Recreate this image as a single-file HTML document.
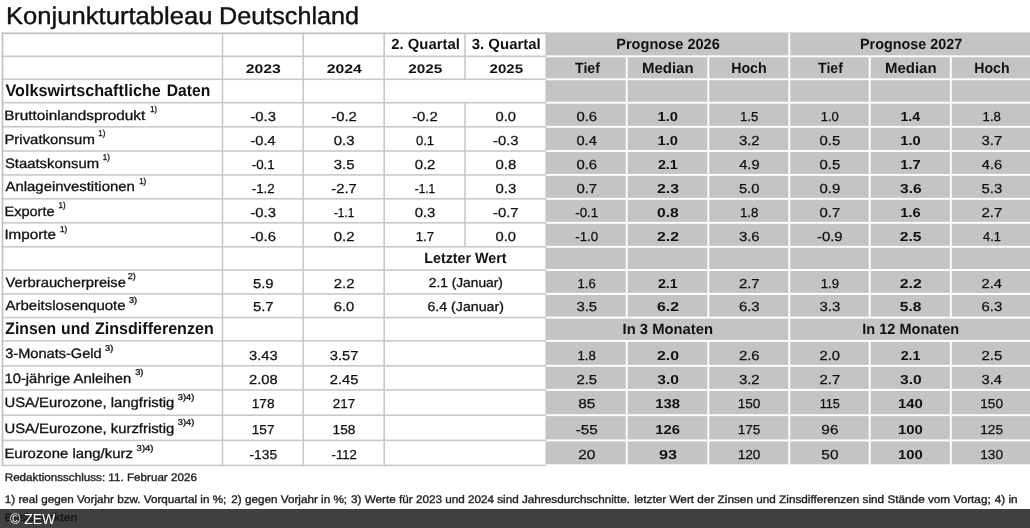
<!DOCTYPE html>
<html lang="de"><head><meta charset="utf-8"><title>Konjunkturtableau Deutschland</title>
<style>
html,body{margin:0;padding:0;background:#fff}
body{width:1030px;height:528px;position:relative;overflow:hidden;font-family:"Liberation Sans", sans-serif;color:#111}
.g{position:absolute;left:0;top:0}
.g text{white-space:pre}
.bar{position:absolute;left:0;top:508.8px;width:1030px;height:19.2px;background:rgba(0,0,0,0.75)}
.cr{position:absolute;left:10px;top:511.7px;font-size:14px;line-height:1;color:#fff;white-space:nowrap}
</style></head><body>
<svg class="g" width="1030" height="528" viewBox="0 0 1030 528" font-family='"Liberation Sans", sans-serif' fill="#111" text-rendering="geometricPrecision">
<g>
<rect x="545.40" y="32.40" width="484.60" height="431.90" fill="#c4c4c4"/>
<rect x="1.70" y="32.50" width="544.30" height="1.60" fill="#bdbdbd"/>
<rect x="1.70" y="55.50" width="544.30" height="1.60" fill="#c9c9c9"/>
<rect x="1.70" y="78.50" width="544.30" height="1.60" fill="#c9c9c9"/>
<rect x="1.70" y="101.90" width="544.30" height="1.60" fill="#c9c9c9"/>
<rect x="1.70" y="126.00" width="544.30" height="1.60" fill="#c9c9c9"/>
<rect x="1.70" y="150.20" width="544.30" height="1.60" fill="#c9c9c9"/>
<rect x="1.70" y="174.10" width="544.30" height="1.60" fill="#c9c9c9"/>
<rect x="1.70" y="198.00" width="544.30" height="1.60" fill="#c9c9c9"/>
<rect x="1.70" y="222.00" width="544.30" height="1.60" fill="#c9c9c9"/>
<rect x="1.70" y="246.00" width="544.30" height="1.60" fill="#c9c9c9"/>
<rect x="1.70" y="269.20" width="544.30" height="1.60" fill="#c9c9c9"/>
<rect x="1.70" y="293.10" width="544.30" height="1.60" fill="#c9c9c9"/>
<rect x="1.70" y="316.80" width="544.30" height="1.60" fill="#c9c9c9"/>
<rect x="1.70" y="340.10" width="544.30" height="1.60" fill="#c9c9c9"/>
<rect x="1.70" y="365.00" width="544.30" height="1.60" fill="#c9c9c9"/>
<rect x="1.70" y="389.10" width="544.30" height="1.60" fill="#c9c9c9"/>
<rect x="1.70" y="414.40" width="544.30" height="1.60" fill="#c9c9c9"/>
<rect x="1.70" y="439.60" width="544.30" height="1.60" fill="#c9c9c9"/>
<rect x="1.70" y="464.60" width="544.30" height="1.60" fill="#c9c9c9"/>
<rect x="1.70" y="32.50" width="1.60" height="433.70" fill="#bdbdbd"/>
<rect x="221.70" y="32.50" width="1.60" height="433.70" fill="#c9c9c9"/>
<rect x="302.40" y="32.50" width="1.60" height="433.70" fill="#c9c9c9"/>
<rect x="383.40" y="32.50" width="1.60" height="433.70" fill="#c9c9c9"/>
<rect x="464.20" y="33.30" width="1.60" height="23.00" fill="#c9c9c9"/>
<rect x="464.20" y="56.30" width="1.60" height="23.00" fill="#c9c9c9"/>
<rect x="464.20" y="102.70" width="1.60" height="24.10" fill="#c9c9c9"/>
<rect x="464.20" y="126.80" width="1.60" height="24.20" fill="#c9c9c9"/>
<rect x="464.20" y="151.00" width="1.60" height="23.90" fill="#c9c9c9"/>
<rect x="464.20" y="174.90" width="1.60" height="23.90" fill="#c9c9c9"/>
<rect x="464.20" y="198.80" width="1.60" height="24.00" fill="#c9c9c9"/>
<rect x="464.20" y="222.80" width="1.60" height="24.00" fill="#c9c9c9"/>
<rect x="546.00" y="55.35" width="484.00" height="1.90" fill="#fff"/>
<rect x="546.00" y="78.35" width="484.00" height="1.90" fill="#fff"/>
<rect x="546.00" y="101.75" width="484.00" height="1.90" fill="#fff"/>
<rect x="546.00" y="125.85" width="484.00" height="1.90" fill="#fff"/>
<rect x="546.00" y="150.05" width="484.00" height="1.90" fill="#fff"/>
<rect x="546.00" y="173.95" width="484.00" height="1.90" fill="#fff"/>
<rect x="546.00" y="197.85" width="484.00" height="1.90" fill="#fff"/>
<rect x="546.00" y="221.85" width="484.00" height="1.90" fill="#fff"/>
<rect x="546.00" y="245.85" width="484.00" height="1.90" fill="#fff"/>
<rect x="546.00" y="269.05" width="484.00" height="1.90" fill="#fff"/>
<rect x="546.00" y="292.95" width="484.00" height="1.90" fill="#fff"/>
<rect x="546.00" y="316.65" width="484.00" height="1.90" fill="#fff"/>
<rect x="546.00" y="339.95" width="484.00" height="1.90" fill="#fff"/>
<rect x="546.00" y="364.85" width="484.00" height="1.90" fill="#fff"/>
<rect x="546.00" y="388.95" width="484.00" height="1.90" fill="#fff"/>
<rect x="546.00" y="414.25" width="484.00" height="1.90" fill="#fff"/>
<rect x="546.00" y="439.45" width="484.00" height="1.90" fill="#fff"/>
<rect x="625.75" y="56.30" width="1.90" height="23.00" fill="#fff"/>
<rect x="625.75" y="79.30" width="1.90" height="23.40" fill="#fff"/>
<rect x="625.75" y="102.70" width="1.90" height="24.10" fill="#fff"/>
<rect x="625.75" y="126.80" width="1.90" height="24.20" fill="#fff"/>
<rect x="625.75" y="151.00" width="1.90" height="23.90" fill="#fff"/>
<rect x="625.75" y="174.90" width="1.90" height="23.90" fill="#fff"/>
<rect x="625.75" y="198.80" width="1.90" height="24.00" fill="#fff"/>
<rect x="625.75" y="222.80" width="1.90" height="24.00" fill="#fff"/>
<rect x="625.75" y="246.80" width="1.90" height="23.20" fill="#fff"/>
<rect x="625.75" y="270.00" width="1.90" height="23.90" fill="#fff"/>
<rect x="625.75" y="293.90" width="1.90" height="23.70" fill="#fff"/>
<rect x="625.75" y="340.90" width="1.90" height="24.90" fill="#fff"/>
<rect x="625.75" y="365.80" width="1.90" height="24.10" fill="#fff"/>
<rect x="625.75" y="389.90" width="1.90" height="25.30" fill="#fff"/>
<rect x="625.75" y="415.20" width="1.90" height="25.20" fill="#fff"/>
<rect x="625.75" y="440.40" width="1.90" height="25.00" fill="#fff"/>
<rect x="707.35" y="56.30" width="1.90" height="23.00" fill="#fff"/>
<rect x="707.35" y="79.30" width="1.90" height="23.40" fill="#fff"/>
<rect x="707.35" y="102.70" width="1.90" height="24.10" fill="#fff"/>
<rect x="707.35" y="126.80" width="1.90" height="24.20" fill="#fff"/>
<rect x="707.35" y="151.00" width="1.90" height="23.90" fill="#fff"/>
<rect x="707.35" y="174.90" width="1.90" height="23.90" fill="#fff"/>
<rect x="707.35" y="198.80" width="1.90" height="24.00" fill="#fff"/>
<rect x="707.35" y="222.80" width="1.90" height="24.00" fill="#fff"/>
<rect x="707.35" y="246.80" width="1.90" height="23.20" fill="#fff"/>
<rect x="707.35" y="270.00" width="1.90" height="23.90" fill="#fff"/>
<rect x="707.35" y="293.90" width="1.90" height="23.70" fill="#fff"/>
<rect x="707.35" y="340.90" width="1.90" height="24.90" fill="#fff"/>
<rect x="707.35" y="365.80" width="1.90" height="24.10" fill="#fff"/>
<rect x="707.35" y="389.90" width="1.90" height="25.30" fill="#fff"/>
<rect x="707.35" y="415.20" width="1.90" height="25.20" fill="#fff"/>
<rect x="707.35" y="440.40" width="1.90" height="25.00" fill="#fff"/>
<rect x="788.35" y="33.30" width="1.90" height="23.00" fill="#fff"/>
<rect x="788.35" y="56.30" width="1.90" height="23.00" fill="#fff"/>
<rect x="788.35" y="79.30" width="1.90" height="23.40" fill="#fff"/>
<rect x="788.35" y="102.70" width="1.90" height="24.10" fill="#fff"/>
<rect x="788.35" y="126.80" width="1.90" height="24.20" fill="#fff"/>
<rect x="788.35" y="151.00" width="1.90" height="23.90" fill="#fff"/>
<rect x="788.35" y="174.90" width="1.90" height="23.90" fill="#fff"/>
<rect x="788.35" y="198.80" width="1.90" height="24.00" fill="#fff"/>
<rect x="788.35" y="222.80" width="1.90" height="24.00" fill="#fff"/>
<rect x="788.35" y="246.80" width="1.90" height="23.20" fill="#fff"/>
<rect x="788.35" y="270.00" width="1.90" height="23.90" fill="#fff"/>
<rect x="788.35" y="293.90" width="1.90" height="23.70" fill="#fff"/>
<rect x="788.35" y="317.60" width="1.90" height="23.30" fill="#fff"/>
<rect x="788.35" y="340.90" width="1.90" height="24.90" fill="#fff"/>
<rect x="788.35" y="365.80" width="1.90" height="24.10" fill="#fff"/>
<rect x="788.35" y="389.90" width="1.90" height="25.30" fill="#fff"/>
<rect x="788.35" y="415.20" width="1.90" height="25.20" fill="#fff"/>
<rect x="788.35" y="440.40" width="1.90" height="25.00" fill="#fff"/>
<rect x="868.75" y="56.30" width="1.90" height="23.00" fill="#fff"/>
<rect x="868.75" y="79.30" width="1.90" height="23.40" fill="#fff"/>
<rect x="868.75" y="102.70" width="1.90" height="24.10" fill="#fff"/>
<rect x="868.75" y="126.80" width="1.90" height="24.20" fill="#fff"/>
<rect x="868.75" y="151.00" width="1.90" height="23.90" fill="#fff"/>
<rect x="868.75" y="174.90" width="1.90" height="23.90" fill="#fff"/>
<rect x="868.75" y="198.80" width="1.90" height="24.00" fill="#fff"/>
<rect x="868.75" y="222.80" width="1.90" height="24.00" fill="#fff"/>
<rect x="868.75" y="246.80" width="1.90" height="23.20" fill="#fff"/>
<rect x="868.75" y="270.00" width="1.90" height="23.90" fill="#fff"/>
<rect x="868.75" y="293.90" width="1.90" height="23.70" fill="#fff"/>
<rect x="868.75" y="340.90" width="1.90" height="24.90" fill="#fff"/>
<rect x="868.75" y="365.80" width="1.90" height="24.10" fill="#fff"/>
<rect x="868.75" y="389.90" width="1.90" height="25.30" fill="#fff"/>
<rect x="868.75" y="415.20" width="1.90" height="25.20" fill="#fff"/>
<rect x="868.75" y="440.40" width="1.90" height="25.00" fill="#fff"/>
<rect x="949.85" y="56.30" width="1.90" height="23.00" fill="#fff"/>
<rect x="949.85" y="79.30" width="1.90" height="23.40" fill="#fff"/>
<rect x="949.85" y="102.70" width="1.90" height="24.10" fill="#fff"/>
<rect x="949.85" y="126.80" width="1.90" height="24.20" fill="#fff"/>
<rect x="949.85" y="151.00" width="1.90" height="23.90" fill="#fff"/>
<rect x="949.85" y="174.90" width="1.90" height="23.90" fill="#fff"/>
<rect x="949.85" y="198.80" width="1.90" height="24.00" fill="#fff"/>
<rect x="949.85" y="222.80" width="1.90" height="24.00" fill="#fff"/>
<rect x="949.85" y="246.80" width="1.90" height="23.20" fill="#fff"/>
<rect x="949.85" y="270.00" width="1.90" height="23.90" fill="#fff"/>
<rect x="949.85" y="293.90" width="1.90" height="23.70" fill="#fff"/>
<rect x="949.85" y="340.90" width="1.90" height="24.90" fill="#fff"/>
<rect x="949.85" y="365.80" width="1.90" height="24.10" fill="#fff"/>
<rect x="949.85" y="389.90" width="1.90" height="25.30" fill="#fff"/>
<rect x="949.85" y="415.20" width="1.90" height="25.20" fill="#fff"/>
<rect x="949.85" y="440.40" width="1.90" height="25.00" fill="#fff"/>
</g>
<g>
<text transform="translate(6.05 23.70) scale(1.0581 1)" font-size="24.2" stroke="#111" stroke-width="0.4">Konjunkturtableau</text>
<text transform="translate(219.08 23.70) scale(1.0408 1)" font-size="24.2" stroke="#111" stroke-width="0.4">Deutschland</text>
<text transform="translate(391.20 49.40) scale(1.0052 1)" font-size="14.8" font-weight="700">2. Quartal</text>
<text transform="translate(471.75 49.40) scale(1.0104 1)" font-size="14.8" font-weight="700">3. Quartal</text>
<text transform="translate(616.22 49.40) scale(0.9841 1)" font-size="14.8" font-weight="700">Prognose 2026</text>
<text transform="translate(860.03 49.40) scale(0.9706 1)" font-size="14.8" font-weight="700">Prognose 2027</text>
<text transform="translate(245.77 73.10) scale(1.2636 1)" font-size="12.5" font-weight="700">2023</text>
<text transform="translate(326.67 73.10) scale(1.2624 1)" font-size="12.5" font-weight="700">2024</text>
<text transform="translate(408.19 73.10) scale(1.2259 1)" font-size="12.5" font-weight="700">2025</text>
<text transform="translate(489.50 73.10) scale(1.2074 1)" font-size="12.5" font-weight="700">2025</text>
<text transform="translate(575.06 72.70) scale(0.9553 1)" font-size="14.8" font-weight="700">Tief</text>
<text transform="translate(641.99 72.70) scale(1.0122 1)" font-size="14.8" font-weight="700">Median</text>
<text transform="translate(731.14 72.70) scale(0.9600 1)" font-size="14.8" font-weight="700">Hoch</text>
<text transform="translate(818.06 72.70) scale(0.9553 1)" font-size="14.8" font-weight="700">Tief</text>
<text transform="translate(884.99 72.70) scale(1.0122 1)" font-size="14.8" font-weight="700">Median</text>
<text transform="translate(974.35 72.70) scale(0.9514 1)" font-size="14.8" font-weight="700">Hoch</text>
<text transform="translate(5.46 96.20) scale(0.9754 1)" font-size="16.6" font-weight="700">Volkswirtschaftliche</text>
<text transform="translate(166.75 96.20) scale(0.9455 1)" font-size="16.6" font-weight="700">Daten</text>
<text transform="translate(5.33 333.70) scale(0.9481 1)" font-size="16.6" font-weight="700">Zinsen</text>
<text transform="translate(61.05 333.70) scale(0.9451 1)" font-size="16.6" font-weight="700">und</text>
<text transform="translate(95.02 333.70) scale(0.9678 1)" font-size="16.6" font-weight="700">Zinsdifferenzen</text>
<text transform="translate(4.37 119.60) scale(1.1297 1)" font-size="13.6" stroke="#111" stroke-width="0.3">Bruttoinlandsprodukt</text>
<text transform="translate(150.26 112.30) scale(0.8741 1)" font-size="8.5" stroke="#111" stroke-width="0.3">1)</text>
<text transform="translate(4.40 143.65) scale(1.0981 1)" font-size="13.6" stroke="#111" stroke-width="0.3">Privatkonsum</text>
<text transform="translate(98.23 136.35) scale(0.9333 1)" font-size="8.5" stroke="#111" stroke-width="0.3">1)</text>
<text transform="translate(4.95 167.55) scale(1.0918 1)" font-size="13.6" stroke="#111" stroke-width="0.3">Staatskonsum</text>
<text transform="translate(102.83 160.25) scale(0.9333 1)" font-size="8.5" stroke="#111" stroke-width="0.3">1)</text>
<text transform="translate(5.50 191.30) scale(1.0968 1)" font-size="13.6" stroke="#111" stroke-width="0.3">Anlageinvestitionen</text>
<text transform="translate(139.13 184.00) scale(0.9333 1)" font-size="8.5" stroke="#111" stroke-width="0.3">1)</text>
<text transform="translate(4.43 215.65) scale(1.0703 1)" font-size="13.6" stroke="#111" stroke-width="0.3">Exporte</text>
<text transform="translate(58.53 208.35) scale(0.9333 1)" font-size="8.5" stroke="#111" stroke-width="0.3">1)</text>
<text transform="translate(4.38 239.20) scale(1.1191 1)" font-size="13.6" stroke="#111" stroke-width="0.3">Importe</text>
<text transform="translate(60.03 231.90) scale(0.9333 1)" font-size="8.5" stroke="#111" stroke-width="0.3">1)</text>
<text transform="translate(5.50 286.55) scale(1.0842 1)" font-size="13.6" stroke="#111" stroke-width="0.3">Verbraucherpreise</text>
<text transform="translate(127.84 279.25) scale(1.0571 1)" font-size="8.5" stroke="#111" stroke-width="0.3">2)</text>
<text transform="translate(5.50 310.45) scale(1.1039 1)" font-size="13.6" stroke="#111" stroke-width="0.3">Arbeitslosenquote</text>
<text transform="translate(128.93 303.15) scale(1.0857 1)" font-size="8.5" stroke="#111" stroke-width="0.3">3)</text>
<text transform="translate(5.23 358.40) scale(1.0719 1)" font-size="13.6" stroke="#111" stroke-width="0.3">3-Monats-Geld</text>
<text transform="translate(105.03 351.10) scale(1.0857 1)" font-size="8.5" stroke="#111" stroke-width="0.3">3)</text>
<text transform="translate(4.41 382.50) scale(1.0893 1)" font-size="13.6" stroke="#111" stroke-width="0.3">10-jährige Anleihen</text>
<text transform="translate(135.23 375.20) scale(1.0857 1)" font-size="8.5" stroke="#111" stroke-width="0.3">3)</text>
<text transform="translate(4.41 407.30) scale(1.0916 1)" font-size="13.6" stroke="#111" stroke-width="0.3">USA/Eurozone, langfristig</text>
<text transform="translate(177.83 400.00) scale(1.0966 1)" font-size="8.5" stroke="#111" stroke-width="0.3">3)4)</text>
<text transform="translate(4.41 432.60) scale(1.0916 1)" font-size="13.6" stroke="#111" stroke-width="0.3">USA/Eurozone, kurzfristig</text>
<text transform="translate(177.83 425.30) scale(1.0966 1)" font-size="8.5" stroke="#111" stroke-width="0.3">3)4)</text>
<text transform="translate(4.40 458.10) scale(1.0970 1)" font-size="13.6" stroke="#111" stroke-width="0.3">Eurozone lang/kurz</text>
<text transform="translate(136.62 450.80) scale(1.1172 1)" font-size="8.5" stroke="#111" stroke-width="0.3">3)4)</text>
<text transform="translate(250.43 121.25) scale(1.1395 1)" font-size="13" stroke="#111" stroke-width="0.25">-0.3</text>
<text transform="translate(331.28 121.25) scale(1.1395 1)" font-size="13" stroke="#111" stroke-width="0.25">-0.2</text>
<text transform="translate(412.18 121.25) scale(1.1395 1)" font-size="13" stroke="#111" stroke-width="0.25">-0.2</text>
<text transform="translate(495.58 121.25) scale(1.1304 1)" font-size="13" stroke="#111" stroke-width="0.25">0.0</text>
<text transform="translate(576.43 121.25) scale(1.1471 1)" font-size="13" stroke="#111" stroke-width="0.25">0.6</text>
<text transform="translate(657.60 121.25) scale(1.1284 1)" font-size="13" font-weight="700">1.0</text>
<text transform="translate(739.94 121.25) scale(1.0149 1)" font-size="13" stroke="#111" stroke-width="0.25">1.5</text>
<text transform="translate(820.65 121.25) scale(1.0000 1)" font-size="13" stroke="#111" stroke-width="0.25">1.0</text>
<text transform="translate(900.38 121.25) scale(1.0957 1)" font-size="13" font-weight="700">1.4</text>
<text transform="translate(982.54 121.25) scale(1.0149 1)" font-size="13" stroke="#111" stroke-width="0.25">1.8</text>
<text transform="translate(250.44 145.30) scale(1.1264 1)" font-size="13" stroke="#111" stroke-width="0.25">-0.4</text>
<text transform="translate(333.78 145.30) scale(1.1471 1)" font-size="13" stroke="#111" stroke-width="0.25">0.3</text>
<text transform="translate(416.00 145.30) scale(1.0000 1)" font-size="13" stroke="#111" stroke-width="0.25">0.1</text>
<text transform="translate(493.08 145.30) scale(1.1395 1)" font-size="13" stroke="#111" stroke-width="0.25">-0.3</text>
<text transform="translate(576.43 145.30) scale(1.1304 1)" font-size="13" stroke="#111" stroke-width="0.25">0.4</text>
<text transform="translate(657.60 145.30) scale(1.1284 1)" font-size="13" font-weight="700">1.0</text>
<text transform="translate(738.88 145.30) scale(1.1471 1)" font-size="13" stroke="#111" stroke-width="0.25">3.2</text>
<text transform="translate(819.58 145.30) scale(1.1471 1)" font-size="13" stroke="#111" stroke-width="0.25">0.5</text>
<text transform="translate(900.35 145.30) scale(1.1284 1)" font-size="13" font-weight="700">1.0</text>
<text transform="translate(981.48 145.30) scale(1.1471 1)" font-size="13" stroke="#111" stroke-width="0.25">3.7</text>
<text transform="translate(251.74 169.40) scale(1.0233 1)" font-size="13" stroke="#111" stroke-width="0.25">-0.1</text>
<text transform="translate(333.78 169.40) scale(1.1471 1)" font-size="13" stroke="#111" stroke-width="0.25">3.5</text>
<text transform="translate(414.68 169.40) scale(1.1471 1)" font-size="13" stroke="#111" stroke-width="0.25">0.2</text>
<text transform="translate(495.58 169.40) scale(1.1471 1)" font-size="13" stroke="#111" stroke-width="0.25">0.8</text>
<text transform="translate(576.43 169.40) scale(1.1471 1)" font-size="13" stroke="#111" stroke-width="0.25">0.6</text>
<text transform="translate(657.90 169.40) scale(1.0957 1)" font-size="13" font-weight="700">2.1</text>
<text transform="translate(739.17 169.40) scale(1.1304 1)" font-size="13" stroke="#111" stroke-width="0.25">4.9</text>
<text transform="translate(819.58 169.40) scale(1.1471 1)" font-size="13" stroke="#111" stroke-width="0.25">0.5</text>
<text transform="translate(900.35 169.40) scale(1.1284 1)" font-size="13" font-weight="700">1.7</text>
<text transform="translate(981.77 169.40) scale(1.1304 1)" font-size="13" stroke="#111" stroke-width="0.25">4.6</text>
<text transform="translate(251.74 192.90) scale(1.0233 1)" font-size="13" stroke="#111" stroke-width="0.25">-1.2</text>
<text transform="translate(331.28 192.90) scale(1.1395 1)" font-size="13" stroke="#111" stroke-width="0.25">-2.7</text>
<text transform="translate(414.80 192.90) scale(0.9070 1)" font-size="13" stroke="#111" stroke-width="0.25">-1.1</text>
<text transform="translate(495.58 192.90) scale(1.1471 1)" font-size="13" stroke="#111" stroke-width="0.25">0.3</text>
<text transform="translate(576.43 192.90) scale(1.1471 1)" font-size="13" stroke="#111" stroke-width="0.25">0.7</text>
<text transform="translate(656.94 192.90) scale(1.2176 1)" font-size="13" font-weight="700">2.3</text>
<text transform="translate(738.88 192.90) scale(1.1304 1)" font-size="13" stroke="#111" stroke-width="0.25">5.0</text>
<text transform="translate(819.58 192.90) scale(1.1471 1)" font-size="13" stroke="#111" stroke-width="0.25">0.9</text>
<text transform="translate(900.00 192.90) scale(1.2000 1)" font-size="13" font-weight="700">3.6</text>
<text transform="translate(981.48 192.90) scale(1.1471 1)" font-size="13" stroke="#111" stroke-width="0.25">5.3</text>
<text transform="translate(250.43 217.00) scale(1.1395 1)" font-size="13" stroke="#111" stroke-width="0.25">-0.3</text>
<text transform="translate(333.90 217.00) scale(0.9070 1)" font-size="13" stroke="#111" stroke-width="0.25">-1.1</text>
<text transform="translate(414.68 217.00) scale(1.1471 1)" font-size="13" stroke="#111" stroke-width="0.25">0.3</text>
<text transform="translate(493.08 217.00) scale(1.1395 1)" font-size="13" stroke="#111" stroke-width="0.25">-0.7</text>
<text transform="translate(575.24 217.00) scale(1.0233 1)" font-size="13" stroke="#111" stroke-width="0.25">-0.1</text>
<text transform="translate(656.95 217.00) scale(1.2000 1)" font-size="13" font-weight="700">0.8</text>
<text transform="translate(739.94 217.00) scale(1.0149 1)" font-size="13" stroke="#111" stroke-width="0.25">1.8</text>
<text transform="translate(819.58 217.00) scale(1.1471 1)" font-size="13" stroke="#111" stroke-width="0.25">0.7</text>
<text transform="translate(900.35 217.00) scale(1.1284 1)" font-size="13" font-weight="700">1.6</text>
<text transform="translate(981.48 217.00) scale(1.1471 1)" font-size="13" stroke="#111" stroke-width="0.25">2.7</text>
<text transform="translate(250.43 240.60) scale(1.1395 1)" font-size="13" stroke="#111" stroke-width="0.25">-0.6</text>
<text transform="translate(333.78 240.60) scale(1.1471 1)" font-size="13" stroke="#111" stroke-width="0.25">0.2</text>
<text transform="translate(415.74 240.60) scale(1.0149 1)" font-size="13" stroke="#111" stroke-width="0.25">1.7</text>
<text transform="translate(495.58 240.60) scale(1.1304 1)" font-size="13" stroke="#111" stroke-width="0.25">0.0</text>
<text transform="translate(575.24 240.60) scale(1.0233 1)" font-size="13" stroke="#111" stroke-width="0.25">-1.0</text>
<text transform="translate(656.94 240.60) scale(1.2176 1)" font-size="13" font-weight="700">2.2</text>
<text transform="translate(738.88 240.60) scale(1.1471 1)" font-size="13" stroke="#111" stroke-width="0.25">3.6</text>
<text transform="translate(817.08 240.60) scale(1.1395 1)" font-size="13" stroke="#111" stroke-width="0.25">-0.9</text>
<text transform="translate(899.70 240.60) scale(1.2000 1)" font-size="13" font-weight="700">2.5</text>
<text transform="translate(983.05 240.60) scale(0.9855 1)" font-size="13" stroke="#111" stroke-width="0.25">4.1</text>
<text transform="translate(252.93 287.70) scale(1.1471 1)" font-size="13" stroke="#111" stroke-width="0.25">5.9</text>
<text transform="translate(333.78 287.70) scale(1.1471 1)" font-size="13" stroke="#111" stroke-width="0.25">2.2</text>
<text transform="translate(428.77 287.40) scale(1.0565 1)" font-size="13" stroke="#111" stroke-width="0.3">2.1 (Januar)</text>
<text transform="translate(577.49 287.70) scale(1.0149 1)" font-size="13" stroke="#111" stroke-width="0.25">1.6</text>
<text transform="translate(657.90 287.70) scale(1.0957 1)" font-size="13" font-weight="700">2.1</text>
<text transform="translate(738.88 287.70) scale(1.1471 1)" font-size="13" stroke="#111" stroke-width="0.25">2.7</text>
<text transform="translate(820.64 287.70) scale(1.0149 1)" font-size="13" stroke="#111" stroke-width="0.25">1.9</text>
<text transform="translate(899.69 287.70) scale(1.2176 1)" font-size="13" font-weight="700">2.2</text>
<text transform="translate(981.48 287.70) scale(1.1304 1)" font-size="13" stroke="#111" stroke-width="0.25">2.4</text>
<text transform="translate(252.93 311.30) scale(1.1471 1)" font-size="13" stroke="#111" stroke-width="0.25">5.7</text>
<text transform="translate(333.78 311.30) scale(1.1304 1)" font-size="13" stroke="#111" stroke-width="0.25">6.0</text>
<text transform="translate(427.46 311.00) scale(1.0899 1)" font-size="13" stroke="#111" stroke-width="0.3">6.4 (Januar)</text>
<text transform="translate(576.43 311.30) scale(1.1471 1)" font-size="13" stroke="#111" stroke-width="0.25">3.5</text>
<text transform="translate(656.94 311.30) scale(1.2176 1)" font-size="13" font-weight="700">6.2</text>
<text transform="translate(738.88 311.30) scale(1.1471 1)" font-size="13" stroke="#111" stroke-width="0.25">6.3</text>
<text transform="translate(819.58 311.30) scale(1.1471 1)" font-size="13" stroke="#111" stroke-width="0.25">3.3</text>
<text transform="translate(899.70 311.30) scale(1.2000 1)" font-size="13" font-weight="700">5.8</text>
<text transform="translate(981.48 311.30) scale(1.1471 1)" font-size="13" stroke="#111" stroke-width="0.25">6.3</text>
<text transform="translate(248.93 359.60) scale(1.1340 1)" font-size="13" stroke="#111" stroke-width="0.25">3.43</text>
<text transform="translate(329.78 359.60) scale(1.1340 1)" font-size="13" stroke="#111" stroke-width="0.25">3.57</text>
<text transform="translate(577.49 359.60) scale(1.0149 1)" font-size="13" stroke="#111" stroke-width="0.25">1.8</text>
<text transform="translate(656.94 359.60) scale(1.2176 1)" font-size="13" font-weight="700">2.0</text>
<text transform="translate(738.88 359.60) scale(1.1471 1)" font-size="13" stroke="#111" stroke-width="0.25">2.6</text>
<text transform="translate(819.58 359.60) scale(1.1304 1)" font-size="13" stroke="#111" stroke-width="0.25">2.0</text>
<text transform="translate(900.65 359.60) scale(1.0957 1)" font-size="13" font-weight="700">2.1</text>
<text transform="translate(981.48 359.60) scale(1.1471 1)" font-size="13" stroke="#111" stroke-width="0.25">2.5</text>
<text transform="translate(248.93 383.90) scale(1.1340 1)" font-size="13" stroke="#111" stroke-width="0.25">2.08</text>
<text transform="translate(329.78 383.90) scale(1.1340 1)" font-size="13" stroke="#111" stroke-width="0.25">2.45</text>
<text transform="translate(576.43 383.90) scale(1.1471 1)" font-size="13" stroke="#111" stroke-width="0.25">2.5</text>
<text transform="translate(657.25 383.90) scale(1.2000 1)" font-size="13" font-weight="700">3.0</text>
<text transform="translate(738.88 383.90) scale(1.1471 1)" font-size="13" stroke="#111" stroke-width="0.25">3.2</text>
<text transform="translate(819.58 383.90) scale(1.1471 1)" font-size="13" stroke="#111" stroke-width="0.25">2.7</text>
<text transform="translate(900.00 383.90) scale(1.2000 1)" font-size="13" font-weight="700">3.0</text>
<text transform="translate(981.48 383.90) scale(1.1304 1)" font-size="13" stroke="#111" stroke-width="0.25">3.4</text>
<text transform="translate(251.71 408.20) scale(1.0488 1)" font-size="13" stroke="#111" stroke-width="0.25">178</text>
<text transform="translate(332.83 408.20) scale(1.0361 1)" font-size="13" stroke="#111" stroke-width="0.25">217</text>
<text transform="translate(578.16 408.20) scale(1.1852 1)" font-size="13" stroke="#111" stroke-width="0.25">85</text>
<text transform="translate(655.34 408.20) scale(1.1415 1)" font-size="13" font-weight="700">138</text>
<text transform="translate(737.66 408.20) scale(1.0488 1)" font-size="13" stroke="#111" stroke-width="0.25">150</text>
<text transform="translate(819.67 408.20) scale(0.9744 1)" font-size="13" stroke="#111" stroke-width="0.25">115</text>
<text transform="translate(898.09 408.20) scale(1.1415 1)" font-size="13" font-weight="700">140</text>
<text transform="translate(980.26 408.20) scale(1.0488 1)" font-size="13" stroke="#111" stroke-width="0.25">150</text>
<text transform="translate(251.71 433.80) scale(1.0488 1)" font-size="13" stroke="#111" stroke-width="0.25">157</text>
<text transform="translate(332.56 433.80) scale(1.0488 1)" font-size="13" stroke="#111" stroke-width="0.25">158</text>
<text transform="translate(575.66 433.80) scale(1.1831 1)" font-size="13" stroke="#111" stroke-width="0.25">-55</text>
<text transform="translate(655.34 433.80) scale(1.1415 1)" font-size="13" font-weight="700">126</text>
<text transform="translate(737.66 433.80) scale(1.0488 1)" font-size="13" stroke="#111" stroke-width="0.25">175</text>
<text transform="translate(821.31 433.80) scale(1.1852 1)" font-size="13" stroke="#111" stroke-width="0.25">96</text>
<text transform="translate(898.09 433.80) scale(1.1415 1)" font-size="13" font-weight="700">100</text>
<text transform="translate(980.26 433.80) scale(1.0488 1)" font-size="13" stroke="#111" stroke-width="0.25">125</text>
<text transform="translate(249.47 459.00) scale(1.0600 1)" font-size="13" stroke="#111" stroke-width="0.25">-135</text>
<text transform="translate(331.60 459.00) scale(1.0000 1)" font-size="13" stroke="#111" stroke-width="0.25">-112</text>
<text transform="translate(578.16 459.00) scale(1.1852 1)" font-size="13" stroke="#111" stroke-width="0.25">20</text>
<text transform="translate(658.88 459.00) scale(1.2444 1)" font-size="13" font-weight="700">93</text>
<text transform="translate(737.66 459.00) scale(1.0488 1)" font-size="13" stroke="#111" stroke-width="0.25">120</text>
<text transform="translate(821.31 459.00) scale(1.1852 1)" font-size="13" stroke="#111" stroke-width="0.25">50</text>
<text transform="translate(898.09 459.00) scale(1.1415 1)" font-size="13" font-weight="700">100</text>
<text transform="translate(980.26 459.00) scale(1.0488 1)" font-size="13" stroke="#111" stroke-width="0.25">130</text>
<text transform="translate(424.23 263.20) scale(0.9655 1)" font-size="14.8" font-weight="700">Letzter Wert</text>
<text transform="translate(622.60 334.00) scale(0.9989 1)" font-size="14.8" font-weight="700">In 3 Monaten</text>
<text transform="translate(862.32 334.00) scale(0.9809 1)" font-size="14.8" font-weight="700">In 12 Monaten</text>
<text transform="translate(4.71 481.40) scale(1.0596 1)" font-size="11" stroke="#222" stroke-width="0.35" fill="#222">Redaktionsschluss: 11. Februar 2026</text>
<text transform="translate(4.80 503.20) scale(1.0623 1)" font-size="11" stroke="#222" stroke-width="0.35" fill="#222">1) real gegen Vorjahr bzw. Vorquartal in %;</text>
<text transform="translate(231.27 503.20) scale(1.0642 1)" font-size="11" stroke="#222" stroke-width="0.35" fill="#222">2) gegen Vorjahr in %;</text>
<text transform="translate(351.03 503.20) scale(1.0644 1)" font-size="11" stroke="#222" stroke-width="0.35" fill="#222">3) Werte für 2023 und 2024 sind Jahresdurchschnitte.</text>
<text transform="translate(634.17 503.20) scale(1.0693 1)" font-size="11" stroke="#222" stroke-width="0.35" fill="#222">letzter Wert der Zinsen und Zinsdifferenzen sind Stände vom Vortag;</text>
<text transform="translate(994.70 503.20) scale(1.0747 1)" font-size="11" stroke="#222" stroke-width="0.35" fill="#222">4) in</text>
<text transform="translate(4.68 521.20) scale(1.0965 1)" font-size="11" stroke="#555" stroke-width="0.35" fill="#555">Basispunkten</text>
</g>
</svg>
<div class="bar"></div><div class="cr">© ZEW</div>
</body></html>
